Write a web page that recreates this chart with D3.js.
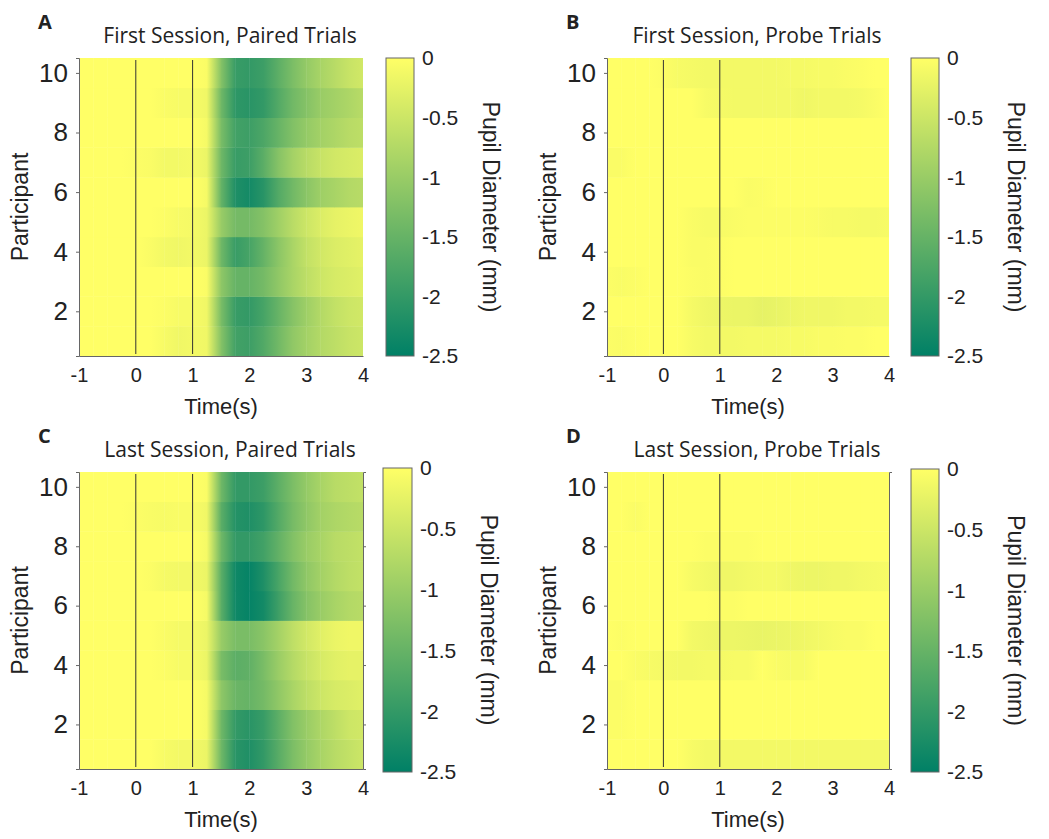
<!DOCTYPE html>
<html>
<head>
<meta charset="utf-8">
<script src="https://cdn.jsdelivr.net/npm/d3@7"></script>
<style>
  body { margin: 0; background: #fff; }
  svg text { fill: #222; }
  .tick-y { font-family: "Liberation Sans", Arial, sans-serif; font-size: 26px; }
  .tick-x { font-family: "Liberation Sans", Arial, sans-serif; font-size: 20px; }
  .tick-c { font-family: "Liberation Sans", Arial, sans-serif; font-size: 21px; }
  .axis-label { font-family: "Liberation Sans", Arial, sans-serif; font-size: 22px; }
  .title { font-family: "Open Sans", sans-serif; font-size: 21px; }
  .letter { font-family: "Open Sans", sans-serif; font-size: 20px; font-weight: 700; }
</style>
</head>
<body>
<div id="chart"></div>
<script>
// time samples (s) and participants
const times = [-1, -0.75, -0.5, -0.25, 0, 0.25, 0.5, 0.75, 1, 1.25, 1.5, 1.75, 2, 2.25, 2.5, 2.75, 3, 3.25, 3.5, 3.75, 4];
const participants = [1, 2, 3, 4, 5, 6, 7, 8, 9, 10];
const xTicks = [-1, 0, 1, 2, 3, 4];
const yTicks = [2, 4, 6, 8, 10];
const colorTicks = [0, -0.5, -1, -1.5, -2, -2.5];
const markers = [0, 1];

// pupil diameter change (mm), one row per participant (1..10)
const firstPaired = [
  [0, 0, 0, 0, 0, 0, -0.08, -0.15, -0.12, -0.15, -1.2, -1.85, -1.9, -1.7, -1.4, -1.1, -0.9, -0.75, -0.65, -0.55, -0.5],
  [0, 0, 0, 0, 0, 0, -0.03, -0.08, -0.08, -0.15, -1.3, -1.95, -2.0, -1.8, -1.5, -1.2, -0.95, -0.75, -0.6, -0.5, -0.45],
  [0, 0, 0, 0, 0, 0, 0, 0, 0, -0.05, -1.1, -1.5, -1.5, -1.35, -1.1, -0.85, -0.65, -0.5, -0.4, -0.35, -0.3],
  [0, 0, 0, 0, 0, -0.05, -0.12, -0.15, -0.12, -0.2, -1.4, -1.95, -1.8, -1.5, -1.15, -0.85, -0.6, -0.45, -0.35, -0.3, -0.25],
  [0, 0, 0, 0, 0, 0, -0.03, -0.08, -0.1, -0.2, -1.0, -1.35, -1.35, -1.2, -0.95, -0.7, -0.5, -0.35, -0.25, -0.2, -0.15],
  [0, 0, 0, 0, 0, 0, 0, 0, 0, -0.1, -1.5, -2.2, -2.3, -2.1, -1.7, -1.4, -1.15, -0.95, -0.85, -0.75, -0.7],
  [0, 0, 0, 0, -0.03, -0.05, -0.12, -0.12, -0.1, -0.2, -1.4, -1.95, -1.9, -1.6, -1.2, -0.9, -0.7, -0.55, -0.45, -0.4, -0.35],
  [0, 0, 0, 0, 0, 0, 0, 0, 0, -0.1, -1.3, -1.85, -1.9, -1.75, -1.5, -1.25, -1.05, -0.9, -0.8, -0.7, -0.65],
  [0, 0, 0, 0, 0, 0, -0.05, -0.08, -0.08, -0.15, -1.4, -2.05, -2.1, -2.0, -1.7, -1.4, -1.2, -1.0, -0.9, -0.8, -0.7],
  [0, 0, 0, 0, 0, 0, 0, 0, 0, -0.05, -1.2, -1.95, -2.0, -1.9, -1.6, -1.3, -1.05, -0.85, -0.7, -0.55, -0.45]
];

const firstProbe = [
  [-0.03, -0.05, -0.02, 0, 0, 0, -0.08, -0.12, -0.12, -0.12, -0.1, -0.1, -0.1, -0.08, -0.08, -0.05, -0.05, -0.03, -0.03, 0, 0],
  [0, 0, 0, 0, 0, 0, -0.1, -0.15, -0.18, -0.2, -0.2, -0.25, -0.22, -0.18, -0.15, -0.15, -0.15, -0.12, -0.12, -0.1, -0.1],
  [-0.03, -0.06, -0.03, 0, 0, 0, -0.03, -0.05, -0.03, 0, 0, 0, 0, 0, 0, 0, 0, 0, 0, 0, 0],
  [0, 0, 0, 0, 0, 0, -0.05, -0.05, -0.03, 0, 0, 0, 0, 0, 0, 0, 0, 0, 0, 0, 0],
  [0, 0, 0, 0, 0, 0, -0.05, -0.08, -0.08, -0.05, -0.03, -0.03, -0.03, -0.03, -0.03, -0.05, -0.08, -0.08, -0.1, -0.1, -0.08],
  [0, 0, 0, 0, 0, 0, 0, 0, 0, 0, -0.05, -0.03, 0, 0, 0, 0, 0, 0, 0, 0, 0],
  [-0.05, -0.05, 0, 0, 0, 0, 0, 0, 0, 0, 0, 0, 0, 0, 0, 0, 0, 0, 0, 0, 0],
  [0, 0, 0, 0, 0, 0, 0, 0, 0, 0, 0, 0, 0, 0, 0, 0, 0, 0, 0, 0, 0],
  [0, 0, 0, 0, 0, 0, 0, -0.08, -0.1, -0.12, -0.12, -0.12, -0.12, -0.12, -0.15, -0.12, -0.12, -0.12, -0.1, -0.05, 0],
  [0, 0, 0, 0, -0.03, -0.08, -0.1, -0.12, -0.12, -0.12, -0.12, -0.12, -0.12, -0.1, -0.1, -0.08, -0.08, -0.05, -0.03, 0, 0]
];

const lastPaired = [
  [0, 0, 0, 0, 0, 0, -0.08, -0.12, -0.12, -0.2, -1.4, -2.1, -2.2, -2.0, -1.65, -1.3, -1.05, -0.85, -0.7, -0.6, -0.5],
  [0, 0, 0, 0, 0, 0, 0, 0, 0, -0.1, -1.4, -2.0, -2.1, -1.95, -1.6, -1.25, -1.0, -0.8, -0.65, -0.5, -0.45],
  [0, 0, 0, 0, 0, 0, 0, 0, 0, -0.1, -1.1, -1.45, -1.5, -1.35, -1.1, -0.85, -0.65, -0.5, -0.4, -0.35, -0.3],
  [0, 0, 0, 0, 0, 0, -0.03, -0.08, -0.08, -0.2, -1.3, -1.6, -1.55, -1.3, -1.0, -0.75, -0.55, -0.4, -0.3, -0.25, -0.25],
  [0, 0, 0, 0, 0, 0, -0.05, -0.1, -0.1, -0.2, -1.0, -1.3, -1.3, -1.15, -0.9, -0.65, -0.45, -0.3, -0.2, -0.15, -0.15],
  [0, 0, 0, 0, 0, 0, 0, 0, 0, -0.1, -1.6, -2.35, -2.45, -2.3, -1.9, -1.5, -1.2, -1.0, -0.85, -0.75, -0.7],
  [0, 0, 0, 0, 0, -0.03, -0.1, -0.12, -0.12, -0.2, -1.6, -2.35, -2.45, -2.2, -1.8, -1.4, -1.1, -0.9, -0.75, -0.65, -0.6],
  [0, 0, 0, 0, 0, 0, 0, 0, 0, -0.1, -1.4, -2.0, -2.0, -1.85, -1.55, -1.25, -1.0, -0.85, -0.7, -0.65, -0.6],
  [0, 0, 0, 0, -0.03, -0.06, -0.08, -0.06, -0.06, -0.15, -1.6, -2.15, -2.2, -2.05, -1.7, -1.35, -1.1, -0.9, -0.8, -0.75, -0.7],
  [0, 0, 0, 0, 0, 0, 0, 0, 0, -0.05, -1.4, -2.0, -2.0, -1.9, -1.6, -1.3, -1.05, -0.85, -0.7, -0.65, -0.6]
];

const lastProbe = [
  [0, 0, 0, 0, 0, 0, -0.08, -0.12, -0.12, -0.12, -0.12, -0.12, -0.12, -0.12, -0.12, -0.12, -0.12, -0.12, -0.12, -0.12, -0.12],
  [-0.03, -0.03, 0, 0, 0, 0, 0, 0, 0, 0, 0, 0, 0, 0, 0, 0, 0, 0, 0, 0, 0],
  [-0.05, -0.05, 0, 0, 0, 0, 0, 0, 0, 0, 0, 0, 0, 0, 0, 0, 0, 0, 0, 0, 0],
  [0, 0, -0.05, -0.08, -0.1, -0.12, -0.12, -0.1, -0.1, -0.08, -0.08, 0, -0.05, -0.08, -0.08, 0, 0, 0, 0, 0, 0],
  [0, -0.03, 0, 0, 0, 0, -0.12, -0.15, -0.18, -0.18, -0.2, -0.22, -0.2, -0.18, -0.15, -0.12, -0.08, -0.05, -0.05, 0, 0],
  [0, 0, 0, 0, 0, 0, 0, 0, -0.03, -0.03, 0, 0, 0, 0, 0, 0, 0, 0, 0, 0, 0],
  [0, 0, 0, 0, 0, 0, -0.08, -0.12, -0.15, -0.15, -0.12, -0.1, -0.1, -0.15, -0.18, -0.18, -0.15, -0.15, -0.12, -0.1, -0.08],
  [0, 0, 0, 0, 0, 0, 0, -0.03, -0.03, -0.03, -0.03, 0, 0, 0, 0, 0, 0, 0, 0, 0, 0],
  [0, 0, -0.05, 0, 0, 0, 0, 0, 0, 0, 0, 0, 0, 0, 0, 0, 0, 0, 0, 0, 0],
  [0, 0, 0, 0, 0, 0, 0, 0, 0, 0, 0, 0, 0, 0, 0, 0, 0, 0, 0, 0, 0]
];

const panels = [
  { id: 'A', title: 'First Session, Paired Trials', values: firstPaired,
    plot: [79, 58, 363, 356], bar: [386, 58, 414, 356], rightLine: false, rightTicks: false },
  { id: 'B', title: 'First Session, Probe Trials', values: firstProbe,
    plot: [607, 58, 889, 356], bar: [911, 58, 939, 356], rightLine: false, rightTicks: false },
  { id: 'C', title: 'Last Session, Paired Trials', values: lastPaired,
    plot: [79, 472, 363, 769], bar: [383, 468, 412, 772], rightLine: true, rightTicks: true },
  { id: 'D', title: 'Last Session, Probe Trials', values: lastProbe,
    plot: [607, 472, 889, 769], bar: [911, 469, 939, 772], rightLine: true, rightTicks: false }
];

// MATLAB "summer" colormap
const color = d3.scaleLinear()
  .domain([-2.5, 0])
  .range(['rgb(0,128,102)', 'rgb(255,255,102)'])
  .clamp(true);

const fmt = (d) => String(d);

const width = 1049;
const height = 839;
const axisColor = '#666';

const svg = d3.select('#chart').append('svg')
  .attr('width', width)
  .attr('height', height);

const defs = svg.append('defs');

panels.forEach((p) => {
  const [px0, py0, px1, py1] = p.plot;
  const [bx0, by0, bx1, by1] = p.bar;

  const xScale = d3.scaleLinear().domain([-1, 4]).range([px0, px1]);
  const yScale = d3.scaleLinear().domain([0.5, 10.5]).range([py1, py0]);
  const cScale = d3.scaleLinear().domain([-2.5, 0]).range([by1, by0]);

  const g = svg.append('g').attr('class', `panel-${p.id}`);

  // heatmap cells: each spans two consecutive samples, shaded between them
  const cells = [];
  p.values.forEach((row, ri) => {
    for (let i = 0; i < times.length - 1; i++) {
      cells.push({ participant: participants[ri], t0: times[i], t1: times[i + 1], v0: row[i], v1: row[i + 1] });
    }
  });

  cells.forEach((d, i) => {
    d.fill = color(d.v0);
    if (d.v0 !== d.v1) {
      const gid = `g${p.id}${i}`;
      const grad = defs.append('linearGradient').attr('id', gid)
        .attr('x1', 0).attr('x2', 1).attr('y1', 0).attr('y2', 0);
      grad.append('stop').attr('offset', 0).attr('stop-color', color(d.v0));
      grad.append('stop').attr('offset', 1).attr('stop-color', color(d.v1));
      d.fill = `url(#${gid})`;
    }
  });

  g.append('g').selectAll('rect')
    .data(cells)
    .join('rect')
    .attr('x', (d) => xScale(d.t0))
    .attr('y', (d) => yScale(d.participant + 0.5))
    .attr('width', (d) => Math.min(xScale(d.t1) - xScale(d.t0) + 0.4, px1 - xScale(d.t0)))
    .attr('height', (d) => yScale(d.participant - 0.5) - yScale(d.participant + 0.5) + (d.participant > 1 ? 0.4 : 0))
    .attr('fill', (d) => d.fill);

  // stimulus markers at 0 s and 1 s
  g.selectAll('.marker')
    .data(markers)
    .join('line')
    .attr('class', 'marker')
    .attr('x1', (d) => xScale(d)).attr('x2', (d) => xScale(d))
    .attr('y1', py0 + 2).attr('y2', py1 - 2)
    .attr('stroke', '#333')
    .attr('stroke-width', 1);

  // y axis
  const yAxis = d3.axisLeft(yScale).tickValues(yTicks).tickSize(3).tickPadding(8).tickFormat(fmt);
  const yG = g.append('g').attr('transform', `translate(${px0},0)`).call(yAxis);
  yG.select('.domain').attr('stroke', axisColor);
  yG.selectAll('.tick line').attr('stroke', axisColor);
  yG.selectAll('.tick text').attr('class', 'tick-y').attr('fill', '#222');

  if (p.rightLine) {
    const yAxisR = d3.axisRight(yScale).tickValues(p.rightTicks ? yTicks : []).tickSize(3).tickFormat('');
    const yR = g.append('g').attr('transform', `translate(${px1},0)`).call(yAxisR);
    yR.select('.domain').attr('stroke', axisColor);
    yR.selectAll('.tick line').attr('stroke', axisColor);
  }

  // x axis
  const xAxis = d3.axisBottom(xScale).tickValues(xTicks).tickSize(0).tickPadding(12).tickFormat(fmt);
  const xG = g.append('g').attr('transform', `translate(0,${py1})`).call(xAxis);
  xG.select('.domain').attr('stroke', axisColor);
  xG.selectAll('.tick text').attr('class', 'tick-x').attr('fill', '#222');

  // colorbar
  const gradId = `bar${p.id}`;
  const barGrad = defs.append('linearGradient').attr('id', gradId)
    .attr('x1', 0).attr('x2', 0).attr('y1', 1).attr('y2', 0);
  barGrad.selectAll('stop')
    .data(color.domain())
    .join('stop')
    .attr('offset', (d) => (by1 - cScale(d)) / (by1 - by0))
    .attr('stop-color', (d) => color(d));

  g.append('rect')
    .attr('x', bx0).attr('y', by0)
    .attr('width', bx1 - bx0).attr('height', by1 - by0)
    .attr('fill', `url(#${gradId})`)
    .attr('stroke', '#666')
    .attr('stroke-width', 1);

  g.selectAll('.ctick')
    .data(colorTicks)
    .join('text')
    .attr('class', 'tick-c')
    .attr('x', bx1 + 8)
    .attr('y', (d) => cScale(d))
    .attr('dy', '0.35em')
    .text(fmt);

  // labels
  const cx = (px0 + px1) / 2;
  g.append('text').attr('class', 'title')
    .attr('x', cx + 9).attr('y', py0 - 15)
    .attr('text-anchor', 'middle')
    .text(p.title);

  g.append('text').attr('class', 'letter')
    .attr('x', px0 - 41).attr('y', py0 - 29)
    .text(p.id);

  g.append('text').attr('class', 'axis-label')
    .attr('text-anchor', 'middle')
    .style('font-size', '23px')
    .attr('transform', `translate(${px0 - 51},${(py0 + py1) / 2}) rotate(-90)`)
    .text('Participant');

  g.append('text').attr('class', 'axis-label')
    .attr('text-anchor', 'middle')
    .attr('x', cx).attr('y', py1 + 58)
    .text('Time(s)');

  g.append('text').attr('class', 'axis-label')
    .attr('text-anchor', 'middle')
    .style('font-size', '23px')
    .attr('transform', `translate(${bx1 + 69},${(by0 + by1) / 2}) rotate(90)`)
    .text('Pupil Diameter (mm)');
});
</script>
</body>
</html>
